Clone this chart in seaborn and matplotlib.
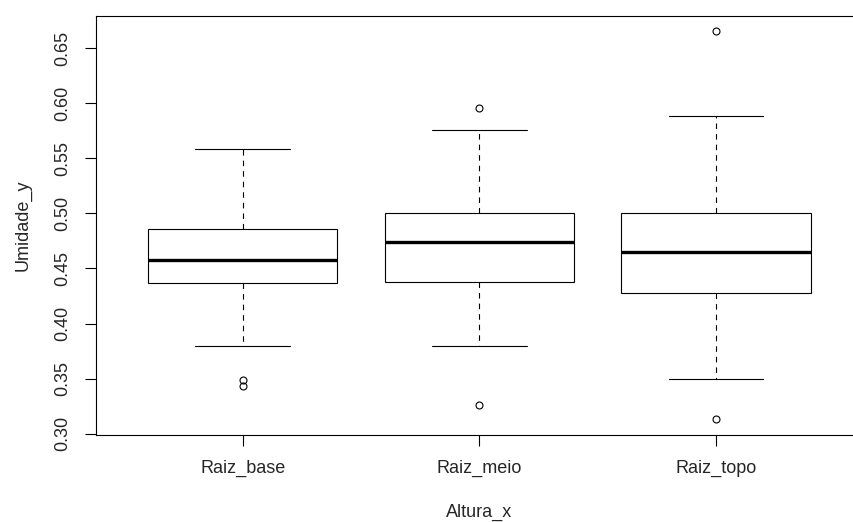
import matplotlib
matplotlib.use('Agg')
import matplotlib.pyplot as plt
import pandas as pd
import seaborn as sns

# Humidity readings per root position
categories = ['Raiz_base', 'Raiz_meio', 'Raiz_topo']
raiz_base = [0.343, 0.349, 0.380, 0.437, 0.445, 0.452, 0.458, 0.465, 0.475, 0.486, 0.500, 0.530, 0.558]
raiz_meio = [0.326, 0.380, 0.410, 0.438, 0.450, 0.462, 0.474, 0.485, 0.492, 0.500, 0.530, 0.576, 0.596]
raiz_topo = [0.313, 0.350, 0.400, 0.428, 0.440, 0.452, 0.465, 0.475, 0.488, 0.500, 0.540, 0.588, 0.665]
y_ticks = [0.30, 0.35, 0.40, 0.45, 0.50, 0.55, 0.60, 0.65]

df = pd.DataFrame({
    'Altura_x': [categories[0]] * len(raiz_base) + [categories[1]] * len(raiz_meio) + [categories[2]] * len(raiz_topo),
    'Umidade_y': raiz_base + raiz_meio + raiz_topo,
})

sns.set_style('white')
plt.rcParams['font.family'] = ['Liberation Sans', 'DejaVu Sans']

fig = plt.figure(figsize=(8.54, 5.22), dpi=100)
# the reference is cut off on the right, so the frame runs past the figure edge
ax = fig.add_axes([0.1124, 0.1667, 0.898, 0.8026])

sns.boxplot(data=df, x='Altura_x', y='Umidade_y', order=categories, ax=ax,
            color='white', linecolor='black', saturation=1, width=0.8, whis=1.5,
            linewidth=0.8, fliersize=5,
            whiskerprops=dict(linestyle=(0, (5, 4.5)), linewidth=0.8),
            capprops=dict(linewidth=0.8),
            medianprops=dict(linewidth=2.4, color='black'),
            flierprops=dict(marker='o', markerfacecolor='none', markeredgecolor='black', markeredgewidth=0.8))

ax.set_xlim(-0.62, 2.62)
ax.set_ylim(0.2989, 0.679)
ax.set_yticks(y_ticks)
ax.set_yticklabels([f'{v:.2f}' for v in y_ticks], rotation=90, va='center')

for s in ax.spines.values():
    s.set_visible(True)
    s.set_color('black')
    s.set_linewidth(0.8)

ax.tick_params(axis='both', direction='out', length=8, width=0.8, color='black',
               labelsize=13, pad=10, left=True, bottom=True)
ax.set_xlabel('Altura_x', fontsize=13, labelpad=19)
ax.set_ylabel('Umidade_y', fontsize=13, labelpad=16)

fig.savefig('out.png', dpi=100)
